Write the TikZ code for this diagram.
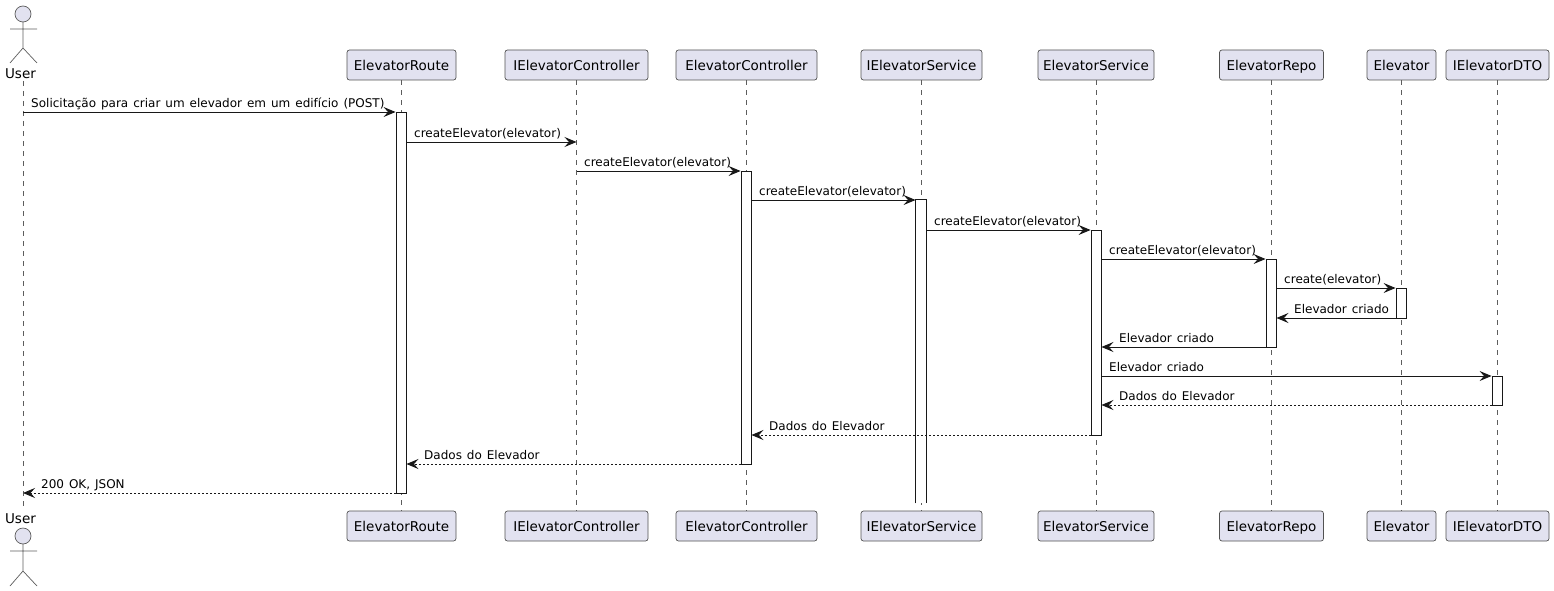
\documentclass[tikz,border=0pt]{standalone}
\usepackage{fontspec}
\setmainfont[WordSpace=1.3]{DejaVu Sans}
\usetikzlibrary{arrows.meta}
\definecolor{partfill}{HTML}{E2E2F0}
\definecolor{partline}{HTML}{181818}
\tikzset{
    part/.style={draw=partline!75, fill=partfill, rounded corners=2.5pt, line width=0.7pt, minimum height=30pt, inner sep=0pt, text height=13pt, text depth=2pt, font=\fontsize{13.5}{15}\selectfont},
    lifeline/.style={draw=partline!70, line width=0.55pt, dash pattern=on 5pt off 5pt},
    actbar/.style={draw=partline, fill=white, line width=0.9pt, minimum width=10pt, inner sep=0pt},
    msg/.style={draw=partline, line width=0.9pt, -{Stealth[length=12pt, width=10pt, inset=4.5pt]}},
    reply/.style={msg, dash pattern=on 2pt off 2pt},
    msglabel/.style={anchor=base west, inner sep=0pt, font=\fontsize{12}{14}\selectfont},
    actorline/.style={draw=partline!70, line width=0.7pt},
    actorname/.style={anchor=base, inner sep=0pt, font=\fontsize{13.5}{15}\selectfont}
}
\begin{document}
\begin{tikzpicture}[x=1pt, y=-1pt]
    \useasboundingbox (0,0) rectangle (1554,591);

    % Actor on top
    \node[actorname] (user) at (20.5,79) {User};
    \draw[actorline, fill=partfill] (23,14) circle (8);
    \draw[actorline] (23,22) -- (23,48) (10,29) -- (37,29) (10,63) -- (23,48) -- (37,63);

    % Actor at the bottom
    \node[actorname] (userF) at (20.5,523) {User};
    \draw[actorline, fill=partfill] (23,536) circle (8);
    \draw[actorline] (23,544) -- (23,571) (10,551) -- (37,551) (10,586) -- (23,571) -- (37,586);

    % Participants on top
    \node[part, minimum width=109pt] (route) at (401.5,65) {ElevatorRoute};
    \node[part, minimum width=143pt] (ictrl) at (576.5,65) {IElevatorController};
    \node[part, minimum width=141pt] (ctrl) at (746.5,65) {ElevatorController};
    \node[part, minimum width=121pt] (iserv) at (921.5,65) {IElevatorService};
    \node[part, minimum width=116pt] (serv) at (1096,65) {ElevatorService};
    \node[part, minimum width=104pt] (repo) at (1271.5,65) {ElevatorRepo};
    \node[part, minimum width=69pt] (elev) at (1401.5,65) {Elevator};
    \node[part, minimum width=103pt] (dto) at (1497.5,65) {IElevatorDTO};

    % Participants at the bottom
    \node[part, minimum width=109pt] (routeF) at (401.5,526) {ElevatorRoute};
    \node[part, minimum width=143pt] (ictrlF) at (576.5,526) {IElevatorController};
    \node[part, minimum width=141pt] (ctrlF) at (746.5,526) {ElevatorController};
    \node[part, minimum width=121pt] (iservF) at (921.5,526) {IElevatorService};
    \node[part, minimum width=116pt] (servF) at (1096,526) {ElevatorService};
    \node[part, minimum width=104pt] (repoF) at (1271.5,526) {ElevatorRepo};
    \node[part, minimum width=69pt] (elevF) at (1401.5,526) {Elevator};
    \node[part, minimum width=103pt] (dtoF) at (1497.5,526) {IElevatorDTO};

    % Lifelines
    \coordinate (userTop) at (23,81);
    \coordinate (userEnd) at (23,507);
    \draw[lifeline] (userTop) -- (userEnd);
    \draw[lifeline] (route.south) -- (routeF.north);
    \draw[lifeline] (ictrl.south) -- (ictrlF.north);
    \draw[lifeline] (ctrl.south) -- (ctrlF.north);
    \draw[lifeline] (iserv.south) -- (iservF.north);
    \draw[lifeline] (serv.south) -- (servF.north);
    \draw[lifeline] (repo.south) -- (repoF.north);
    \draw[lifeline] (elev.south) -- (elevF.north);
    \draw[lifeline] (dto.south) -- (dtoF.north);

    % Activation bars
    \node[actbar, minimum height=381pt] (barRoute) at (401,302.5) {};
    \node[actbar, minimum height=293pt] (barCtrl) at (746,317.5) {};
    \node[actbar, minimum height=205pt] (barServ) at (1096,332.5) {};
    \node[actbar, minimum height=88pt] (barRepo) at (1271,303) {};
    \node[actbar, minimum height=30pt] (barElev) at (1401,303) {};
    \node[actbar, minimum height=29pt] (barDto) at (1497,390.5) {};
    % this bar stays open at the bottom
    \node[actbar, draw=none, minimum height=303pt] (barIserv) at (921,351.5) {};
    \draw[line width=0.9pt, draw=partline] (barIserv.south west) -- (barIserv.north west) -- (barIserv.north east) -- (barIserv.south east);

    % Heights of the messages
    \coordinate (m1) at (0,112);
    \coordinate (m2) at (0,142);
    \coordinate (m3) at (0,171);
    \coordinate (m4) at (0,200);
    \coordinate (m5) at (0,230);
    \coordinate (m6) at (0,259);
    \coordinate (m7) at (0,288);
    \coordinate (m8) at (0,318);
    \coordinate (m9) at (0,347);
    \coordinate (m10) at (0,376);
    \coordinate (m11) at (0,405);
    \coordinate (m12) at (0,435);
    \coordinate (m13) at (0,464);
    \coordinate (m14) at (0,493);

    % Messages
    \draw[msg] (userTop |- m1) -- (barRoute.west |- m1);
    \draw[msg] (barRoute.east |- m2) -- (ictrl.center |- m2);
    \draw[msg] (ictrl.center |- m3) -- (barCtrl.west |- m3);
    \draw[msg] (barCtrl.east |- m4) -- (barIserv.west |- m4);
    \draw[msg] (barIserv.east |- m5) -- (barServ.west |- m5);
    \draw[msg] (barServ.east |- m6) -- (barRepo.west |- m6);
    \draw[msg] (barRepo.east |- m7) -- (barElev.west |- m7);
    \draw[msg] (barElev.west |- m8) -- (barRepo.east |- m8);
    \draw[msg] (barRepo.west |- m9) -- (barServ.east |- m9);
    \draw[msg] (barServ.east |- m10) -- (barDto.west |- m10);
    \draw[reply] (barDto.west |- m11) -- (barServ.east |- m11);
    \draw[reply] (barServ.west |- m12) -- (barCtrl.east |- m12);
    \draw[reply] (barCtrl.west |- m13) -- (barRoute.east |- m13);
    \draw[reply] (barRoute.west |- m14) -- (userTop |- m14);

    % Labels of the messages
    \node[msglabel] (t1) at (31,107) {Solicitação para criar um elevador em um edifício (POST)};
    \node[msglabel] (t2) at (414,137) {createElevator(elevator)};
    \node[msglabel] (t3) at (584,166) {createElevator(elevator)};
    \node[msglabel] (t4) at (759,195) {createElevator(elevator)};
    \node[msglabel] (t5) at (934,225) {createElevator(elevator)};
    \node[msglabel] (t6) at (1109,254) {createElevator(elevator)};
    \node[msglabel] (t7) at (1284,283) {create(elevator)};
    \node[msglabel] (t8) at (1294,313) {Elevador criado};
    \node[msglabel] (t9) at (1119,342) {Elevador criado};
    \node[msglabel] (t10) at (1109,371) {Elevador criado};
    \node[msglabel] (t11) at (1119,400) {Dados do Elevador};
    \node[msglabel] (t12) at (769,430) {Dados do Elevador};
    \node[msglabel] (t13) at (424,459) {Dados do Elevador};
    \node[msglabel] (t14) at (41,488) {200 OK, JSON};
\end{tikzpicture}
\end{document}
